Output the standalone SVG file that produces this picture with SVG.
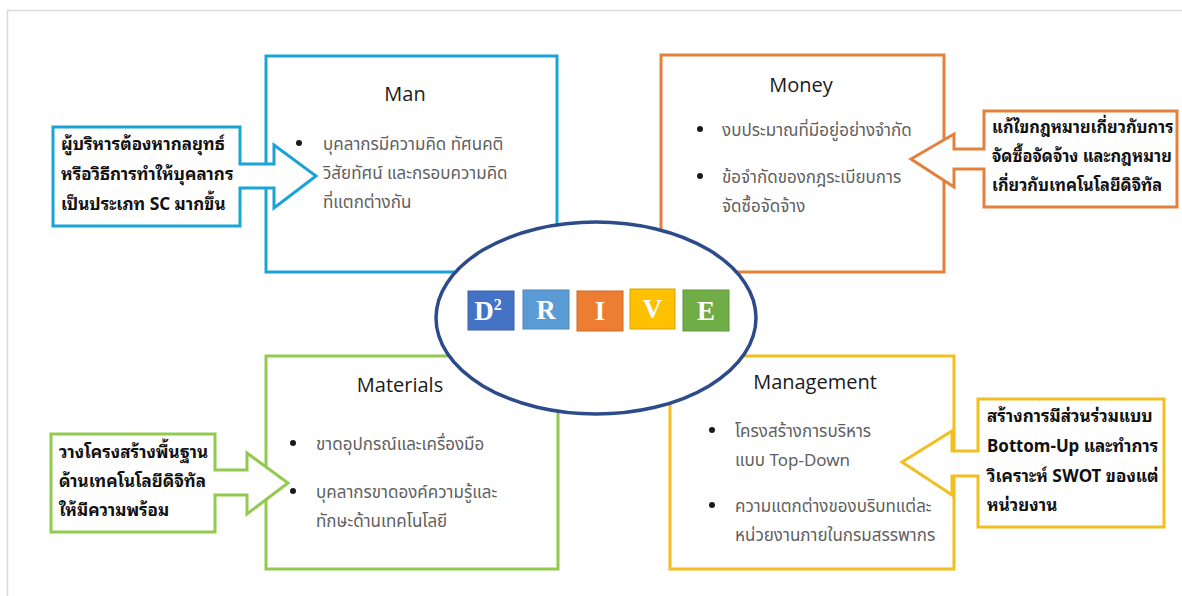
<svg xmlns="http://www.w3.org/2000/svg" width="1182" height="596" viewBox="0 0 1182 596">
  <style>
    .frame { fill: #ffffff; stroke: #d9d9d9; stroke-width: 1.5; }
    .box { fill: #ffffff; stroke-width: 3; }
    .callout { fill: #ffffff; stroke-width: 3; stroke-linejoin: miter; }
    .blue { stroke: #1ba3d8; }
    .orange { stroke: #e2813b; }
    .green { stroke: #92c94f; }
    .yellow { stroke: #f1bf1f; }
    .title { font-family: "Open Sans", "Noto Sans", "Liberation Sans", sans-serif; font-size: 20px; fill: #1a1a1a; text-anchor: middle; }
    .item { font-family: "Noto Sans Thai", "Noto Sans", "Liberation Sans", sans-serif; font-size: 17px; fill: #5f5f5f; }
    .dot { fill: #1a1a1a; }
    .note { font-family: "Noto Sans Thai Looped", "Noto Sans Thai", "Noto Sans", sans-serif; font-size: 17px; font-weight: bold; fill: #111111; }
    .note.tight { font-size: 16.4px; }
    .hub { fill: #ffffff; stroke: #2d4b8a; stroke-width: 3.5; }
    .tile { stroke-width: 1; }
    .letter { font-family: "Liberation Serif", "Times New Roman", serif; font-weight: bold; font-size: 27px; fill: #ffffff; text-anchor: middle; }
  </style>

  <rect class="frame" x="7.5" y="10.5" width="1180" height="600"/>

  <!-- Man -->
  <g id="man">
    <rect class="box blue" x="266" y="56" width="291" height="216"/>
    <text class="title" x="405" y="101">Man</text>
    <circle class="dot" cx="299" cy="143" r="3"/>
    <text class="item" x="323" y="150">บุคลากรมีความคิด ทัศนคติ</text>
    <text class="item" x="323" y="179">วิสัยทัศน์ และกรอบความคิด</text>
    <text class="item" x="323" y="208">ที่แตกต่างกัน</text>
  </g>

  <!-- Money -->
  <g id="money">
    <rect class="box orange" x="661" y="55" width="283" height="217"/>
    <text class="title" x="801" y="92">Money</text>
    <circle class="dot" cx="700" cy="129" r="3"/>
    <text class="item" x="722" y="136">งบประมาณที่มีอยู่อย่างจำกัด</text>
    <circle class="dot" cx="700" cy="176" r="3"/>
    <text class="item" x="722" y="183">ข้อจำกัดของกฎระเบียบการ</text>
    <text class="item" x="722" y="212">จัดซื้อจัดจ้าง</text>
  </g>

  <!-- Materials -->
  <g id="materials">
    <rect class="box green" x="266" y="356" width="292" height="213"/>
    <text class="title" x="400" y="392">Materials</text>
    <circle class="dot" cx="293" cy="443" r="3"/>
    <text class="item" x="316" y="450">ขาดอุปกรณ์และเครื่องมือ</text>
    <circle class="dot" cx="293" cy="491" r="3"/>
    <text class="item" x="316" y="498">บุคลากรขาดองค์ความรู้และ</text>
    <text class="item" x="316" y="527">ทักษะด้านเทคโนโลยี</text>
  </g>

  <!-- Management -->
  <g id="management">
    <rect class="box yellow" x="670" y="356" width="284" height="213"/>
    <text class="title" x="815" y="389">Management</text>
    <circle class="dot" cx="712" cy="430" r="3"/>
    <text class="item" x="735" y="437">โครงสร้างการบริหาร</text>
    <text class="item" x="735" y="466">แบบ Top-Down</text>
    <circle class="dot" cx="712" cy="505" r="3"/>
    <text class="item" x="735" y="512">ความแตกต่างของบริบทแต่ละ</text>
    <text class="item" x="735" y="541">หน่วยงานภายในกรมสรรพากร</text>
  </g>

  <!-- central hub with the DRIVE tiles -->
  <g id="drive">
    <ellipse class="hub" cx="596" cy="318" rx="160" ry="96"/>
    <rect class="tile" x="468" y="291" width="46" height="39" fill="#4472c4" stroke="#3a62a8"/>
    <text class="letter" x="488" y="320">D<tspan font-size="16" dy="-10">2</tspan></text>
    <rect class="tile" x="523" y="290" width="46" height="39" fill="#5b9bd5" stroke="#4d86b8"/>
    <text class="letter" x="546" y="319">R</text>
    <rect class="tile" x="577" y="291" width="46" height="40" fill="#ed7d31" stroke="#cc6a28"/>
    <text class="letter" x="600" y="320">I</text>
    <rect class="tile" x="630" y="289" width="45" height="40" fill="#ffc000" stroke="#d9a400"/>
    <text class="letter" x="652.5" y="318">V</text>
    <rect class="tile" x="683" y="290" width="46" height="41" fill="#70ad47" stroke="#5e953b"/>
    <text class="letter" x="706" y="320">E</text>
  </g>

  <!-- arrow callouts pointing into the boxes -->
  <g id="callouts">
    <g id="man-callout">
      <path class="callout blue" d="M53,127 H240 V164 H274 V145 L316,176 L274,208 V188 H240 V226 H53 Z"/>
      <text class="note" x="61" y="150">ผู้บริหารต้องหากลยุทธ์</text>
      <text class="note" x="61" y="180">หรือวิธีการทำให้บุคลากร</text>
      <text class="note" x="61" y="210">เป็นประเภท SC มากขึ้น</text>
    </g>
    <g id="money-callout">
      <path class="callout orange" d="M984,111 H1177 V207 H984 V169 H954 V187 L911,159 L954,134 V149 H984 Z"/>
      <text class="note tight" x="992" y="133">แก้ไขกฎหมายเกี่ยวกับการ</text>
      <text class="note tight" x="992" y="162">จัดซื้อจัดจ้าง และกฎหมาย</text>
      <text class="note tight" x="992" y="191">เกี่ยวกับเทคโนโลยีดิจิทัล</text>
    </g>
    <g id="materials-callout">
      <path class="callout green" d="M51,434 H215 V470 H247 V453 L288,483 L247,514 V495 H215 V532 H51 Z"/>
      <text class="note" x="59" y="458">วางโครงสร้างพื้นฐาน</text>
      <text class="note" x="59" y="487">ด้านเทคโนโลยีดิจิทัล</text>
      <text class="note" x="59" y="516">ให้มีความพร้อม</text>
    </g>
    <g id="management-callout">
      <path class="callout yellow" d="M978,399 H1164 V527 H978 V476 H952 V495 L902,462 L952,431 V451 H978 Z"/>
      <text class="note" x="987" y="422">สร้างการมีส่วนร่วมแบบ</text>
      <text class="note" x="987" y="452">Bottom-Up และทำการ</text>
      <text class="note" x="987" y="482">วิเคราะห์ SWOT ของแต่</text>
      <text class="note" x="987" y="511">หน่วยงาน</text>
    </g>
  </g>
</svg>
